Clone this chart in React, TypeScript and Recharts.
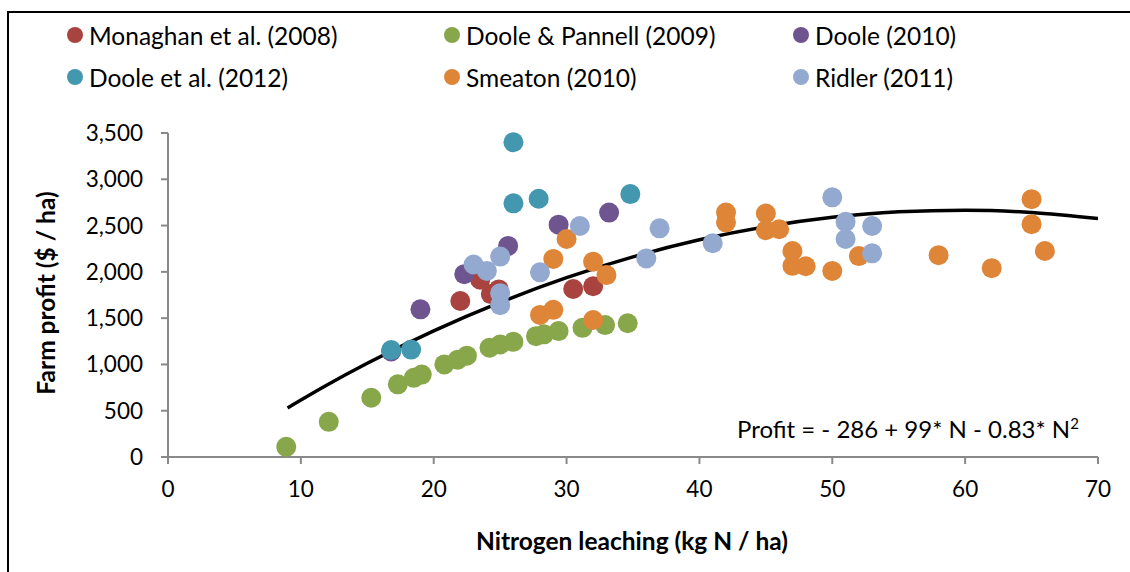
import React from "react";
import { ComposedChart, Scatter, Line, XAxis, YAxis } from "recharts";

// values
const monaghan = [
  { x: 22.0, y: 1685 },
  { x: 23.5, y: 1915 },
  { x: 24.3, y: 1760 },
  { x: 24.9, y: 1810 },
  { x: 30.5, y: 1815 },
  { x: 32.0, y: 1845 },
];

const doolePannell = [
  { x: 8.9, y: 110 },
  { x: 12.1, y: 380 },
  { x: 15.3, y: 640 },
  { x: 17.3, y: 785 },
  { x: 18.5, y: 855 },
  { x: 19.1, y: 890 },
  { x: 20.8, y: 1000 },
  { x: 21.8, y: 1050 },
  { x: 22.5, y: 1095 },
  { x: 24.2, y: 1180 },
  { x: 25.0, y: 1215 },
  { x: 26.0, y: 1245 },
  { x: 27.7, y: 1305 },
  { x: 28.3, y: 1325 },
  { x: 29.4, y: 1360 },
  { x: 31.2, y: 1395 },
  { x: 32.9, y: 1425 },
  { x: 34.6, y: 1445 },
];

const doole2010 = [
  { x: 16.8, y: 1140 },
  { x: 19.0, y: 1595 },
  { x: 22.3, y: 1975 },
  { x: 25.6, y: 2280 },
  { x: 29.4, y: 2510 },
  { x: 33.2, y: 2640 },
];

const doole2012 = [
  { x: 16.8, y: 1155 },
  { x: 18.3, y: 1160 },
  { x: 26.0, y: 3400 },
  { x: 26.0, y: 2740 },
  { x: 27.9, y: 2790 },
  { x: 34.8, y: 2840 },
];

const smeaton = [
  { x: 28.0, y: 1535 },
  { x: 29.0, y: 1590 },
  { x: 32.0, y: 1480 },
  { x: 29.0, y: 2140 },
  { x: 30.0, y: 2355 },
  { x: 32.0, y: 2110 },
  { x: 33.0, y: 1965 },
  { x: 42.0, y: 2640 },
  { x: 42.0, y: 2535 },
  { x: 45.0, y: 2630 },
  { x: 45.0, y: 2450 },
  { x: 46.0, y: 2460 },
  { x: 47.0, y: 2225 },
  { x: 47.0, y: 2065 },
  { x: 48.0, y: 2060 },
  { x: 50.0, y: 2010 },
  { x: 52.0, y: 2170 },
  { x: 58.0, y: 2180 },
  { x: 62.0, y: 2040 },
  { x: 65.0, y: 2785 },
  { x: 65.0, y: 2515 },
  { x: 66.0, y: 2225 },
];

const ridler = [
  { x: 23.0, y: 2080 },
  { x: 24.0, y: 2010 },
  { x: 25.0, y: 2165 },
  { x: 25.0, y: 1770 },
  { x: 25.0, y: 1640 },
  { x: 28.0, y: 1995 },
  { x: 31.0, y: 2495 },
  { x: 36.0, y: 2145 },
  { x: 37.0, y: 2470 },
  { x: 41.0, y: 2310 },
  { x: 50.0, y: 2805 },
  { x: 51.0, y: 2540 },
  { x: 51.0, y: 2355 },
  { x: 53.0, y: 2495 },
  { x: 53.0, y: 2200 },
];

// fitted curve
const trend = [
  { x: 9, y: 530 },
  { x: 12, y: 780 },
  { x: 15, y: 1012 },
  { x: 20, y: 1362 },
  { x: 25, y: 1670 },
  { x: 30, y: 1937 },
  { x: 35, y: 2162 },
  { x: 40, y: 2346 },
  { x: 45, y: 2488 },
  { x: 50, y: 2589 },
  { x: 55, y: 2648 },
  { x: 60, y: 2666 },
  { x: 65, y: 2642 },
  { x: 70, y: 2577 },
];

const xTicks = [0, 10, 20, 30, 40, 50, 60, 70];
const yTicks = [0, 500, 1000, 1500, 2000, 2500, 3000, 3500];

const series = [
  { name: "Monaghan et al. (2008)", data: monaghan, color: "#A9433F" },
  { name: "Doole & Pannell (2009)", data: doolePannell, color: "#88A64A" },
  { name: "Doole (2010)", data: doole2010, color: "#6F5590" },
  { name: "Doole et al. (2012)", data: doole2012, color: "#4397AE" },
  { name: "Smeaton (2010)", data: smeaton, color: "#DE8538" },
  { name: "Ridler (2011)", data: ridler, color: "#93A9CF" },
];

const legendPos = [
  { left: 67, top: 35 },
  { left: 444, top: 35 },
  { left: 793, top: 35 },
  { left: 67, top: 77 },
  { left: 444, top: 77 },
  { left: 793, top: 77 },
];

const font = "Lato, 'Open Sans', sans-serif";
const axisGrey = "#898989";

const dot = (color: string) => (props: any) =>
  <circle cx={props.cx} cy={props.cy} r={10} fill={color} />;

export default function App() {
  return (
    <div
      style={{
        position: "absolute",
        left: 0,
        top: 0,
        width: 1130,
        height: 572,
        overflow: "hidden",
        background: "#fff",
        fontFamily: font,
      }}
    >
      <div
        style={{
          position: "absolute",
          left: 7,
          top: 11,
          width: 1200,
          height: 700,
          borderLeft: "2px solid #000",
          borderTop: "2px solid #000",
        }}
      />

      {series.map((s, i) => (
        <div
          key={s.name}
          style={{
            position: "absolute",
            left: legendPos[i].left,
            top: legendPos[i].top - 15,
            height: 30,
            display: "flex",
            alignItems: "center",
            fontSize: 24.5,
            color: "#000",
            whiteSpace: "nowrap",
          }}
        >
          <span
            style={{
              width: 16,
              height: 16,
              borderRadius: 8,
              background: s.color,
              marginRight: 6,
              display: "inline-block",
            }}
          />
          {s.name}
        </div>
      ))}

      <ComposedChart
        width={1130}
        height={572}
        margin={{ top: 133, right: 32, bottom: 85, left: 88 }}
        style={{ position: "absolute", left: 0, top: 0 }}
      >
        <XAxis
          type="number"
          dataKey="x"
          domain={[0, 70]}
          ticks={xTicks}
          height={30}
          stroke={axisGrey}
          strokeWidth={2}
          tickSize={7}
          tickMargin={17}
          tick={{ fill: "#000", fontSize: 22.5, fontFamily: font }}
          allowDataOverflow
        />
        <YAxis
          type="number"
          dataKey="y"
          domain={[0, 3500]}
          ticks={yTicks}
          width={80}
          stroke={axisGrey}
          strokeWidth={2}
          tickSize={7}
          tickMargin={18}
          tickFormatter={(v) => v.toLocaleString("en-US")}
          tick={{ fill: "#000", fontSize: 22.5, fontFamily: font }}
        />
        {series.map((s) => (
          <Scatter
            key={s.name}
            name={s.name}
            data={s.data}
            dataKey="y"
            fill={s.color}
            shape={dot(s.color)}
            isAnimationActive={false}
          />
        ))}
        <Line
          data={trend}
          dataKey="y"
          type="monotone"
          stroke="#000"
          strokeWidth={3.5}
          dot={false}
          activeDot={false}
          isAnimationActive={false}
        />
      </ComposedChart>

      <div
        style={{
          position: "absolute",
          left: 45,
          top: 293,
          transform: "translate(-50%, -50%) rotate(-90deg)",
          fontSize: 24.5,
          fontWeight: 700,
          whiteSpace: "nowrap",
        }}
      >
        Farm profit ($ / ha)
      </div>
      <div
        style={{
          position: "absolute",
          left: 632,
          top: 540,
          transform: "translate(-50%, -50%)",
          fontSize: 24.5,
          fontWeight: 700,
          whiteSpace: "nowrap",
        }}
      >
        Nitrogen leaching (kg N / ha)
      </div>
      <div
        style={{
          position: "absolute",
          left: 737,
          top: 414,
          fontSize: 24,
          whiteSpace: "nowrap",
        }}
      >
        Profit = - 286 + 99* N - 0.83* N<sup style={{ fontSize: 15 }}>2</sup>
      </div>
    </div>
  );
}
